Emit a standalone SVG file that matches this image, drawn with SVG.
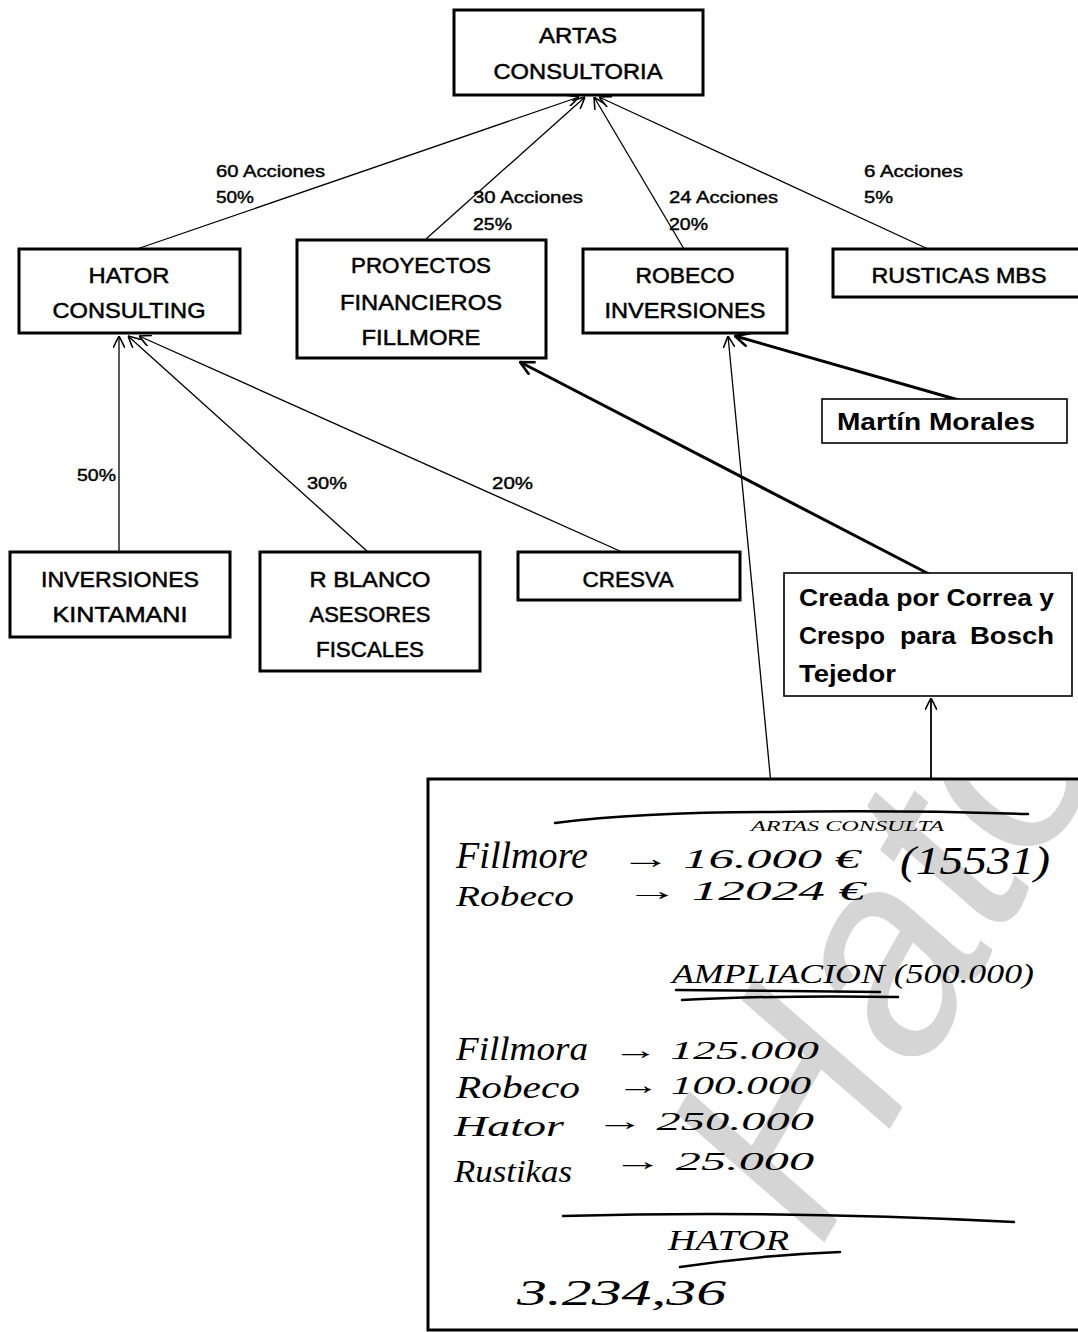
<svg xmlns="http://www.w3.org/2000/svg" width="1078" height="1332" viewBox="0 0 1078 1332">
<style>
.box{fill:#fff;stroke:#000;stroke-width:3}
.tbox{fill:#fff;stroke:#000;stroke-width:1.6}
.t{font-family:"Liberation Sans",Arial,sans-serif;font-size:22px;fill:#000;stroke:#000;stroke-width:0.5;text-anchor:middle}
.lb{font-family:"Liberation Sans",Arial,sans-serif;font-size:16px;fill:#000;stroke:#000;stroke-width:0.4}
.b{font-family:"Liberation Sans",Arial,sans-serif;font-size:23px;font-weight:bold;fill:#000}
.thin{stroke:#000;stroke-width:1.3;fill:none}
.thick{stroke:#000;stroke-width:3;fill:none}
.hw{font-family:"Liberation Serif","Times New Roman",serif;font-style:italic;fill:#000}
.pen{stroke:#000;stroke-width:2.5;fill:none;stroke-linecap:round}
</style>
<defs>
<marker id="ah" viewBox="0 0 12 12" refX="12" refY="6" markerWidth="12" markerHeight="12" markerUnits="userSpaceOnUse" orient="auto">
<path d="M0,0 L12,6 L0,12" fill="none" stroke="#000" stroke-width="1.6"/>
</marker>
<marker id="ahk" viewBox="0 0 16 16" refX="15" refY="8" markerWidth="16" markerHeight="16" markerUnits="userSpaceOnUse" orient="auto">
<path d="M1,1 L15,8 L1,15" fill="none" stroke="#000" stroke-width="2.6"/>
</marker>
<clipPath id="noteclip"><rect x="430" y="781" width="648" height="547"/></clipPath>
</defs>
<rect width="1078" height="1332" fill="#fff"/>

<g id="connectors">
<line class="thin" x1="137" y1="249" x2="579" y2="97" marker-end="url(#ah)"/>
<line class="thin" x1="426" y1="239" x2="585" y2="97" marker-end="url(#ah)"/>
<line class="thin" x1="684" y1="249" x2="594" y2="97" marker-end="url(#ah)"/>
<line class="thin" x1="928" y1="249" x2="599" y2="97" marker-end="url(#ah)"/>
<line class="thin" x1="119" y1="552" x2="119" y2="336" marker-end="url(#ah)"/>
<line class="thin" x1="368" y1="552" x2="128" y2="336" marker-end="url(#ah)"/>
<line class="thin" x1="622" y1="552" x2="139" y2="336" marker-end="url(#ah)"/>
<line class="thick" x1="962" y1="401" x2="735" y2="336" marker-end="url(#ahk)"/>
<line class="thick" x1="929" y1="574" x2="520" y2="362" marker-end="url(#ahk)"/>
<line class="thin" x1="773" y1="805" x2="728" y2="336" marker-end="url(#ah)"/>
<line x1="931" y1="805" x2="931" y2="698" stroke="#000" stroke-width="1.8" marker-end="url(#ah)"/>
<text class="lb" x="216" y="177" textLength="109" lengthAdjust="spacingAndGlyphs">60 Acciones</text>
<text class="lb" x="216" y="203" textLength="38" lengthAdjust="spacingAndGlyphs">50%</text>
<text class="lb" x="473" y="203" textLength="110" lengthAdjust="spacingAndGlyphs">30 Acciones</text>
<text class="lb" x="473" y="230" textLength="39" lengthAdjust="spacingAndGlyphs">25%</text>
<text class="lb" x="669" y="203" textLength="109" lengthAdjust="spacingAndGlyphs">24 Acciones</text>
<text class="lb" x="669" y="230" textLength="39" lengthAdjust="spacingAndGlyphs">20%</text>
<text class="lb" x="864" y="177" textLength="99" lengthAdjust="spacingAndGlyphs">6 Acciones</text>
<text class="lb" x="864" y="203" textLength="29" lengthAdjust="spacingAndGlyphs">5%</text>
<text class="lb" x="77" y="481" textLength="39" lengthAdjust="spacingAndGlyphs">50%</text>
<text class="lb" x="307" y="489" textLength="40" lengthAdjust="spacingAndGlyphs">30%</text>
<text class="lb" x="492" y="489" textLength="41" lengthAdjust="spacingAndGlyphs">20%</text>
</g>

<g id="artas">
<rect class="box" x="454" y="10" width="249" height="85"/>
<text class="t" x="578" y="43" textLength="78" lengthAdjust="spacingAndGlyphs">ARTAS</text>
<text class="t" x="578" y="79" textLength="169" lengthAdjust="spacingAndGlyphs">CONSULTORIA</text>
</g>
<g id="hator">
<rect class="box" x="19" y="249" width="221" height="84"/>
<text class="t" x="129" y="283" textLength="81" lengthAdjust="spacingAndGlyphs">HATOR</text>
<text class="t" x="129" y="318" textLength="153" lengthAdjust="spacingAndGlyphs">CONSULTING</text>
</g>
<g id="fillmore">
<rect class="box" x="297" y="240" width="249" height="118"/>
<text class="t" x="421" y="273" textLength="140" lengthAdjust="spacingAndGlyphs">PROYECTOS</text>
<text class="t" x="421" y="310" textLength="162" lengthAdjust="spacingAndGlyphs">FINANCIEROS</text>
<text class="t" x="421" y="345" textLength="119" lengthAdjust="spacingAndGlyphs">FILLMORE</text>
</g>
<g id="robeco">
<rect class="box" x="583" y="249" width="204" height="84"/>
<text class="t" x="685" y="283" textLength="99" lengthAdjust="spacingAndGlyphs">ROBECO</text>
<text class="t" x="685" y="318" textLength="161" lengthAdjust="spacingAndGlyphs">INVERSIONES</text>
</g>
<g id="rusticas">
<rect class="box" x="833" y="249" width="250" height="48"/>
<text class="t" x="959" y="283" textLength="175" lengthAdjust="spacingAndGlyphs">RUSTICAS MBS</text>
</g>
<g id="martin">
<rect class="tbox" x="822" y="399" width="245" height="44"/>
<text class="b" x="837" y="430" textLength="198" lengthAdjust="spacingAndGlyphs">Martín Morales</text>
</g>
<g id="kintamani">
<rect class="box" x="10" y="552" width="220" height="85"/>
<text class="t" x="120" y="587" textLength="158" lengthAdjust="spacingAndGlyphs">INVERSIONES</text>
<text class="t" x="120" y="622" textLength="135" lengthAdjust="spacingAndGlyphs">KINTAMANI</text>
</g>
<g id="rblanco">
<rect class="box" x="260" y="552" width="220" height="119"/>
<text class="t" x="370" y="587" textLength="121" lengthAdjust="spacingAndGlyphs">R BLANCO</text>
<text class="t" x="370" y="622" textLength="121" lengthAdjust="spacingAndGlyphs">ASESORES</text>
<text class="t" x="370" y="657" textLength="108" lengthAdjust="spacingAndGlyphs">FISCALES</text>
</g>
<g id="cresva">
<rect class="box" x="518" y="552" width="222" height="48"/>
<text class="t" x="628" y="587" textLength="91" lengthAdjust="spacingAndGlyphs">CRESVA</text>
</g>
<g id="creada">
<rect class="tbox" x="784" y="573" width="288" height="123"/>
<text class="b" x="799" y="606" textLength="255" lengthAdjust="spacingAndGlyphs">Creada por Correa y</text>
<text class="b" x="799" y="644" textLength="86" lengthAdjust="spacingAndGlyphs">Crespo</text>
<text class="b" x="900" y="644" textLength="56" lengthAdjust="spacingAndGlyphs">para</text>
<text class="b" x="970" y="644" textLength="84" lengthAdjust="spacingAndGlyphs">Bosch</text>
<text class="b" x="799" y="682" textLength="97" lengthAdjust="spacingAndGlyphs">Tejedor</text>
</g>

<g id="nota">
<rect x="428" y="779" width="660" height="551" fill="#fff" stroke="#000" stroke-width="3"/>
<g clip-path="url(#noteclip)">
<text x="0" y="0" transform="translate(820,1250) rotate(-60)" font-family="Liberation Sans,Arial,sans-serif" font-size="280" font-style="italic" fill="#c4c4c4" opacity="0.7">Hator</text>
</g>
<path class="pen" d="M555,823 Q640,812 772,812 Q900,810 1028,814"/>
<text class="hw" x="751" y="831" font-size="14" textLength="193" lengthAdjust="spacingAndGlyphs">ARTAS CONSULTA</text>
<text class="hw" x="456" y="868" font-size="38" textLength="132" lengthAdjust="spacingAndGlyphs">Fillmore</text>
<text class="hw" x="620" y="868" font-size="28" textLength="240" lengthAdjust="spacingAndGlyphs">→ 16.000 €</text>
<text class="hw" x="900" y="874" font-size="40" textLength="150" lengthAdjust="spacingAndGlyphs">(15531)</text>
<text class="hw" x="456" y="906" font-size="30" textLength="118" lengthAdjust="spacingAndGlyphs">Robeco</text>
<text class="hw" x="625" y="900" font-size="27" textLength="240" lengthAdjust="spacingAndGlyphs">→ 12024 €</text>
<text class="hw" x="672" y="983" font-size="28" textLength="362" lengthAdjust="spacingAndGlyphs">AMPLIACION (500.000)</text>
<path class="pen" d="M676,990 L880,992"/>
<path class="pen" d="M682,1000 Q780,995 898,997"/>
<text class="hw" x="456" y="1060" font-size="34" textLength="132" lengthAdjust="spacingAndGlyphs">Fillmora</text>
<text class="hw" x="613" y="1059" font-size="26" textLength="206" lengthAdjust="spacingAndGlyphs">→ 125.000</text>
<text class="hw" x="456" y="1098" font-size="32" textLength="124" lengthAdjust="spacingAndGlyphs">Robeco</text>
<text class="hw" x="617" y="1094" font-size="26" textLength="194" lengthAdjust="spacingAndGlyphs">→ 100.000</text>
<text class="hw" x="454" y="1136" font-size="30" textLength="110" lengthAdjust="spacingAndGlyphs">Hator</text>
<text class="hw" x="596" y="1130" font-size="26" textLength="218" lengthAdjust="spacingAndGlyphs">→ 250.000</text>
<text class="hw" x="454" y="1182" font-size="32" textLength="118" lengthAdjust="spacingAndGlyphs">Rustikas</text>
<text class="hw" x="613" y="1170" font-size="26" textLength="201" lengthAdjust="spacingAndGlyphs">→ 25.000</text>
<path class="pen" d="M563,1216 Q780,1210 1014,1222"/>
<text class="hw" x="668" y="1250" font-size="30" textLength="121" lengthAdjust="spacingAndGlyphs">HATOR</text>
<path class="pen" d="M680,1267 Q760,1255 840,1252"/>
<text class="hw" x="517" y="1305" font-size="36" textLength="209" lengthAdjust="spacingAndGlyphs">3.234,36</text>
</g>
</svg>
